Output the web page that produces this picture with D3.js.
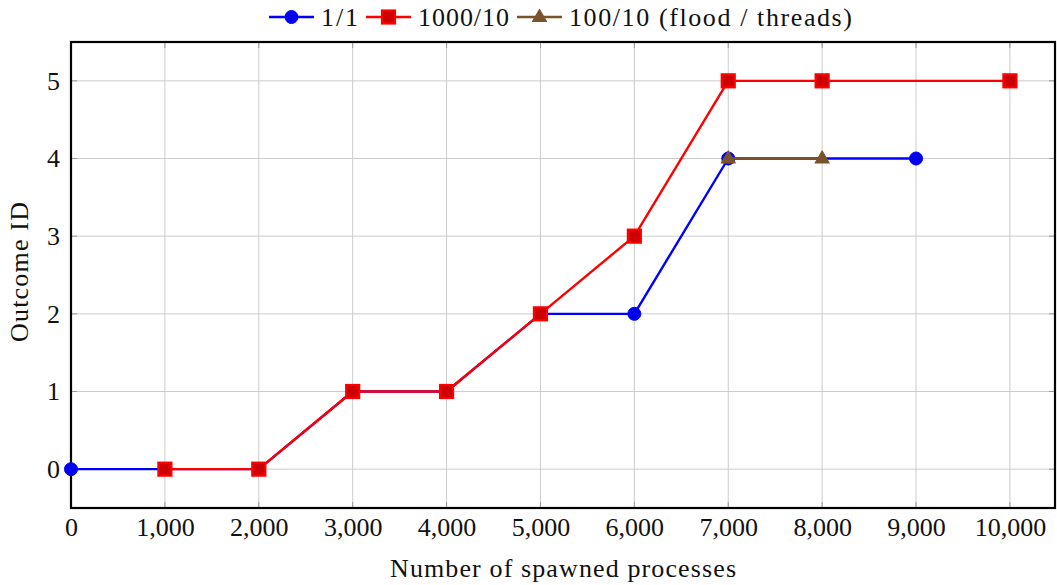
<!DOCTYPE html>
<html>
<head>
<meta charset="utf-8">
<script src="https://cdn.jsdelivr.net/npm/d3@7"></script>
<style>
  body { margin: 0; background: #fff; }
  svg { display: block; font-family: "Liberation Serif", "DejaVu Serif", serif; }
</style>
</head>
<body>
<div id="chart"></div>
<script>
// x positions and outcome ids, one pair of arrays per series
var xTicks = [0, 1000, 2000, 3000, 4000, 5000, 6000, 7000, 8000, 9000, 10000];
var yTicks = [0, 1, 2, 3, 4, 5];

var oneX = [0, 1000, 2000, 3000, 4000, 5000, 6000, 7000, 9000];
var oneY = [0, 0, 0, 1, 1, 2, 2, 4, 4];

var thousandX = [1000, 2000, 3000, 4000, 5000, 6000, 7000, 8000, 10000];
var thousandY = [0, 0, 1, 1, 2, 3, 5, 5, 5];

var hundredX = [7000, 8000];
var hundredY = [4, 4];

var seriesNames = ["1/1", "1000/10", "100/10 (flood / threads)"];

function init() {
    var w = 1057, h = 585;
    var left = 71, right = 1055, top = 42, bottom = 508;
    var fs = "26px";

    var svg = d3.select("#chart").append("svg")
        .attr("width", w)
        .attr("height", h);

    var xScale = d3.scaleLinear().domain([0, 10480]).range([left, right]);
    var yScale = d3.scaleLinear().domain([-0.5, 5.5]).range([bottom, top]);

    // grid
    svg.append("g").selectAll("line")
        .data(xTicks)
        .enter().append("line")
        .attr("x1", function(d) { return xScale(d); })
        .attr("x2", function(d) { return xScale(d); })
        .attr("y1", top).attr("y2", bottom)
        .attr("stroke", "#cccccc").attr("stroke-width", 1);
    svg.append("g").selectAll("line")
        .data(yTicks)
        .enter().append("line")
        .attr("y1", function(d) { return yScale(d); })
        .attr("y2", function(d) { return yScale(d); })
        .attr("x1", left).attr("x2", right)
        .attr("stroke", "#cccccc").attr("stroke-width", 1);

    // small inner tick marks
    var tickLen = 6;
    var tk = svg.append("g").attr("stroke", "#999").attr("stroke-width", 1);
    xTicks.forEach(function(d) {
        tk.append("line").attr("x1", xScale(d)).attr("x2", xScale(d)).attr("y1", bottom).attr("y2", bottom - tickLen);
        tk.append("line").attr("x1", xScale(d)).attr("x2", xScale(d)).attr("y1", top).attr("y2", top + tickLen);
    });
    yTicks.forEach(function(d) {
        tk.append("line").attr("y1", yScale(d)).attr("y2", yScale(d)).attr("x1", left).attr("x2", left + tickLen);
        tk.append("line").attr("y1", yScale(d)).attr("y2", yScale(d)).attr("x1", right).attr("x2", right - tickLen);
    });

    // axes (labels only, ticks drawn above)
    var xAxis = d3.axisBottom(xScale).tickValues(xTicks).tickFormat(d3.format(",")).tickSize(0).tickPadding(10);
    var yAxis = d3.axisLeft(yScale).tickValues(yTicks).tickFormat(d3.format("d")).tickSize(0).tickPadding(11);

    var gx = svg.append("g").attr("transform", "translate(0," + bottom + ")").call(xAxis);
    var gy = svg.append("g").attr("transform", "translate(" + left + ",0)").call(yAxis);
    [gx, gy].forEach(function(g) {
        g.select(".domain").remove();
        g.selectAll("text")
            .style("font-family", "Liberation Serif, serif")
            .style("font-size", fs)
            .attr("fill", "#111");
    });

    // frame
    svg.append("rect")
        .attr("x", left).attr("y", top)
        .attr("width", right - left).attr("height", bottom - top)
        .attr("fill", "none").attr("stroke", "#000").attr("stroke-width", 2.2);

    var line = d3.line()
        .x(function(d) { return xScale(d[0]); })
        .y(function(d) { return yScale(d[1]); });

    var styles = [
        { color: "#0000ff", fill: "#0000ee", marker: "circle" },
        { color: "#ff0000", fill: "#cc0000", marker: "square" },
        { color: "#7a532c", fill: "#7a532c", marker: "triangle" }
    ];
    var seriesData = [
        d3.zip(oneX, oneY),
        d3.zip(thousandX, thousandY),
        d3.zip(hundredX, hundredY)
    ];

    function drawMarker(g, type, st, cx, cy) {
        if (type === "circle") {
            g.append("circle").attr("cx", cx).attr("cy", cy).attr("r", 6.5)
                .attr("fill", st.fill).attr("stroke", st.color).attr("stroke-width", 1);
        } else if (type === "square") {
            g.append("rect").attr("x", cx - 6.5).attr("y", cy - 6.5)
                .attr("width", 13).attr("height", 13)
                .attr("fill", st.fill).attr("stroke", st.color).attr("stroke-width", 2.2);
        } else {
            g.append("path")
                .attr("d", "M" + cx + "," + (cy - 7.5) + "L" + (cx + 7) + "," + (cy + 4.5) + "L" + (cx - 7) + "," + (cy + 4.5) + "Z")
                .attr("fill", st.fill).attr("stroke", st.color).attr("stroke-width", 1.2)
                .attr("stroke-linejoin", "round");
        }
    }

    seriesData.forEach(function(data, i) {
        var st = styles[i];
        var g = svg.append("g");
        g.append("path")
            .attr("d", line(data))
            .attr("fill", "none")
            .attr("stroke", st.color)
            .attr("stroke-width", 2.4)
            .attr("stroke-linejoin", "round");
        data.forEach(function(d) {
            drawMarker(g, st.marker, st, xScale(d[0]), yScale(d[1]));
        });
    });

    // axis titles (stretched a little to match the wider TeX face)
    svg.append("text")
        .attr("x", (left + right) / 2).attr("y", 577)
        .attr("text-anchor", "middle")
        .attr("textLength", 346).attr("lengthAdjust", "spacing")
        .style("font-size", fs).attr("fill", "#111")
        .text("Number of spawned processes");
    svg.append("text")
        .attr("transform", "translate(28," + ((top + bottom) / 2 - 3) + ") rotate(-90)")
        .attr("text-anchor", "middle")
        .attr("textLength", 140).attr("lengthAdjust", "spacing")
        .style("font-size", fs).attr("fill", "#111")
        .text("Outcome ID");

    // legend
    var legendWidths = [37, 91, 283];
    var legend = svg.append("g").attr("transform", "translate(269,0)");
    var lx = 0;
    seriesNames.forEach(function(name, i) {
        var st = styles[i];
        var item = legend.append("g").attr("transform", "translate(" + lx + ",0)");
        item.append("line").attr("x1", 0).attr("x2", 45).attr("y1", 17).attr("y2", 17)
            .attr("stroke", st.color).attr("stroke-width", 2.4);
        drawMarker(item, st.marker, st, 22.5, 17);
        item.append("text").attr("x", 52).attr("y", 26)
            .attr("textLength", legendWidths[i]).attr("lengthAdjust", "spacing")
            .style("font-size", fs).attr("fill", "#111").text(name);
        lx += 52 + legendWidths[i] + 8;
    });
}

window.onload = init;
</script>
</body>
</html>
